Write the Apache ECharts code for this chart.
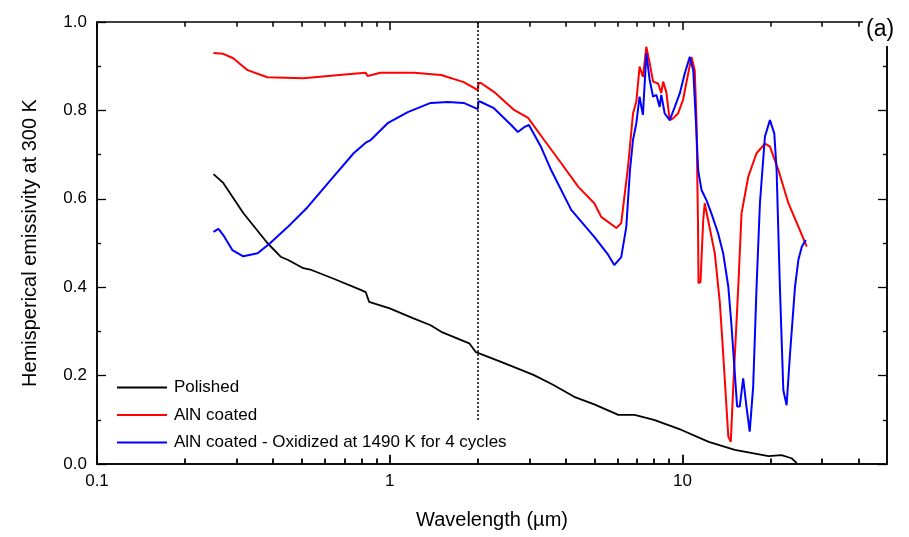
<!DOCTYPE html>
<html>
<head>
<meta charset="utf-8">
<script src="https://cdn.jsdelivr.net/npm/echarts@6/dist/echarts.min.js"></script>
<style>html,body{margin:0;padding:0;background:#fff;}#chart{width:909px;height:537px;}</style>
</head>
<body>
<div id="chart"></div>
<script>
// ---- data (wavelength in µm, hemispherical emissivity) ----
const polishedWl = [0.25,0.27,0.316,0.382,0.424,0.448,0.507,0.535,0.65,0.796,0.828,0.85,1.0,1.2,1.38,1.5,1.87,1.97,2.4,2.81,3.11,3.6,4.27,5.0,6.04,6.86,8.0,9.93,12.3,15.1,19.7,21.8,23.6,24.6];
const polishedEm = [0.656,0.636,0.568,0.500,0.469,0.462,0.443,0.440,0.418,0.394,0.389,0.367,0.352,0.330,0.314,0.299,0.273,0.253,0.231,0.213,0.201,0.180,0.152,0.135,0.111,0.111,0.100,0.077,0.050,0.032,0.018,0.020,0.013,0.002];

const alnWl = [0.25,0.27,0.292,0.327,0.382,0.507,0.718,0.828,0.84,0.93,1.21,1.5,1.79,2.0,2.01,2.05,2.27,2.66,2.97,3.37,3.85,4.41,5.0,5.28,5.95,6.18,6.52,6.78,6.96,7.14,7.33,7.53,7.73,7.94,8.26,8.47,8.59,8.81,9.05,9.29,9.66,10.05,10.47,10.74,11.02,11.17,11.3,11.35,11.53,11.78,11.92,12.24,12.9,13.43,13.78,14.35,14.63,14.92,15.52,15.92,16.79,17.92,19.14,19.91,21.28,23.02,24.9,26.6];
const alnEm = [0.930,0.928,0.918,0.891,0.875,0.873,0.882,0.885,0.878,0.885,0.885,0.880,0.864,0.846,0.862,0.862,0.842,0.801,0.783,0.733,0.681,0.627,0.590,0.559,0.534,0.545,0.673,0.793,0.820,0.899,0.876,0.944,0.907,0.865,0.861,0.839,0.865,0.842,0.778,0.782,0.793,0.824,0.884,0.921,0.891,0.778,0.552,0.409,0.412,0.552,0.590,0.552,0.477,0.364,0.250,0.062,0.050,0.175,0.401,0.567,0.650,0.703,0.725,0.718,0.665,0.590,0.537,0.492];

const oxWl = [0.25,0.26,0.27,0.29,0.316,0.354,0.391,0.448,0.524,0.629,0.753,0.828,0.861,0.984,1.153,1.38,1.58,1.79,2.0,2.01,2.05,2.27,2.6,2.74,2.88,2.99,3.29,3.56,4.17,5.0,5.58,5.85,6.18,6.43,6.62,6.78,6.96,7.14,7.24,7.33,7.53,7.73,7.94,8.15,8.36,8.47,8.7,9.05,9.42,9.8,10.19,10.6,10.89,11.15,11.32,11.62,12.08,12.56,13.24,13.78,14.35,14.72,15.1,15.38,15.7,16.13,16.55,16.98,17.45,17.92,18.4,19.14,19.91,20.6,20.98,21.53,22.12,22.7,23.32,24.25,24.9,25.6,26.4];
const oxEm = [0.525,0.532,0.518,0.484,0.470,0.477,0.500,0.536,0.581,0.643,0.703,0.727,0.733,0.771,0.796,0.817,0.819,0.817,0.803,0.821,0.819,0.805,0.767,0.751,0.762,0.767,0.717,0.665,0.575,0.514,0.473,0.450,0.468,0.536,0.665,0.733,0.771,0.831,0.808,0.790,0.929,0.869,0.831,0.835,0.808,0.835,0.793,0.778,0.808,0.839,0.884,0.921,0.891,0.760,0.665,0.620,0.597,0.567,0.522,0.477,0.401,0.311,0.205,0.130,0.130,0.194,0.130,0.073,0.175,0.401,0.590,0.741,0.778,0.748,0.665,0.401,0.167,0.133,0.250,0.401,0.462,0.492,0.507];

const seriesNames = ['Polished','AlN coated','AlN coated - Oxidized at 1490 K for 4 cycles'];
const majorTicksX = [0.1, 1, 10];
const minorTicksX = [0.2,0.3,0.4,0.5,0.6,0.7,0.8,0.9,2,3,4,5,6,7,8,9,20,30,40];
const dividerWl = 2;

const zip = (a, b) => a.map((v, i) => [v, b[i]]);
const font = 'Liberation Sans, Arial, sans-serif';

// x tick marks (bottom and top, pointing inward) expressed in data units
const tickStyle = {color: '#000', type: 'solid', width: 1.5};
const tickStyleBottom = {color: '#000', type: 'solid', width: 1.8};
function tickPairs(values, frac) {
  const out = [];
  values.forEach(v => {
    out.push([{coord: [v, 0.0001], lineStyle: tickStyleBottom}, {coord: [v, frac * 1.15]}]);
    out.push([{coord: [v, 1], lineStyle: tickStyle}, {coord: [v, 1 - frac]}]);
  });
  return out;
}

const chart = echarts.init(document.getElementById('chart'), null, {renderer: 'canvas'});
const axisLine = {show: true, lineStyle: {color: '#000', width: 1.5}};

chart.setOption({
  animation: false,
  backgroundColor: '#fff',
  grid: {left: 97, right: 22, top: 22, bottom: 73, show: true, borderColor: '#000', borderWidth: 1.5, backgroundColor: 'transparent'},
  legend: {
    data: seriesNames,
    orient: 'vertical',
    left: 112,
    top: 374,
    icon: 'rect',
    itemWidth: 50,
    itemHeight: 2,
    itemGap: 10.5,
    textStyle: {fontFamily: font, fontSize: 17, color: '#000', lineHeight: 17, padding: [0, 0, 0, 2]}
  },
  xAxis: [
    {
      type: 'log', logBase: 10, min: 0.1, max: 50,
      name: 'Wavelength (µm)', nameLocation: 'middle', nameGap: 46,
      nameTextStyle: {fontFamily: font, fontSize: 20, color: '#000'},
      axisLine: axisLine,
      axisTick: {show: false},
      axisLabel: {fontFamily: font, fontSize: 17, color: '#000', margin: 9, showMaxLabel: false,
        formatter: v => (v === 0.1 ? '0.1' : String(Math.round(v)))},
      splitLine: {show: false}
    }
  ],
  yAxis: [
    {
      type: 'value', min: 0, max: 1, interval: 0.2,
      name: 'Hemisperical emissivity at 300 K', nameLocation: 'middle', nameGap: 57,
      nameTextStyle: {fontFamily: font, fontSize: 20, color: '#000'},
      axisLine: axisLine,
      axisTick: {show: true, inside: true, length: 9, lineStyle: {color: '#000', width: 1.3}},
      minorTick: {show: true, splitNumber: 2, length: 4, lineStyle: {color: '#000', width: 1.3}},
      axisLabel: {fontFamily: font, fontSize: 17, color: '#000', margin: 10, formatter: v => v.toFixed(1)},
      splitLine: {show: false}
    },
    {
      type: 'value', min: 0, max: 1, interval: 0.2, position: 'right',
      axisLine: axisLine,
      axisTick: {show: true, inside: true, length: 9, lineStyle: {color: '#000', width: 1.3}},
      minorTick: {show: true, splitNumber: 2, length: 4, lineStyle: {color: '#000', width: 1.3}},
      axisLabel: {show: false},
      splitLine: {show: false}
    }
  ],
  series: [
    {
      name: seriesNames[0], type: 'line', data: zip(polishedWl, polishedEm),
      symbol: 'none', color: '#000',
      lineStyle: {color: '#000', width: 1.8},
      markLine: {
        silent: true, symbol: 'none', label: {show: false}, animation: false,
        lineStyle: {color: '#000', type: [2, 2], width: 1.5},
        data: [[{coord: [dividerWl, 1]}, {coord: [dividerWl, 0.095]}]]
          .concat(tickPairs(majorTicksX, 0.018))
          .concat(tickPairs(minorTicksX, 0.011))
      },
      z: 3
    },
    {
      name: seriesNames[1], type: 'line', data: zip(alnWl, alnEm),
      symbol: 'none', color: '#ff0000',
      lineStyle: {color: '#ff0000', width: 2}, z: 3
    },
    {
      name: seriesNames[2], type: 'line', data: zip(oxWl, oxEm),
      symbol: 'none', color: '#0000ff',
      lineStyle: {color: '#0000ff', width: 2}, z: 4
    }
  ],
  graphic: [
    {
      type: 'rect', right: 0, top: 0, z: 100,
      shape: {width: 46, height: 46}, style: {fill: '#fff'}
    },
    {
      type: 'text', left: 866, top: 18, z: 101,
      style: {text: '(a)', font: '23px ' + font, fill: '#000'}
    }
  ]
});
</script>
</body>
</html>
